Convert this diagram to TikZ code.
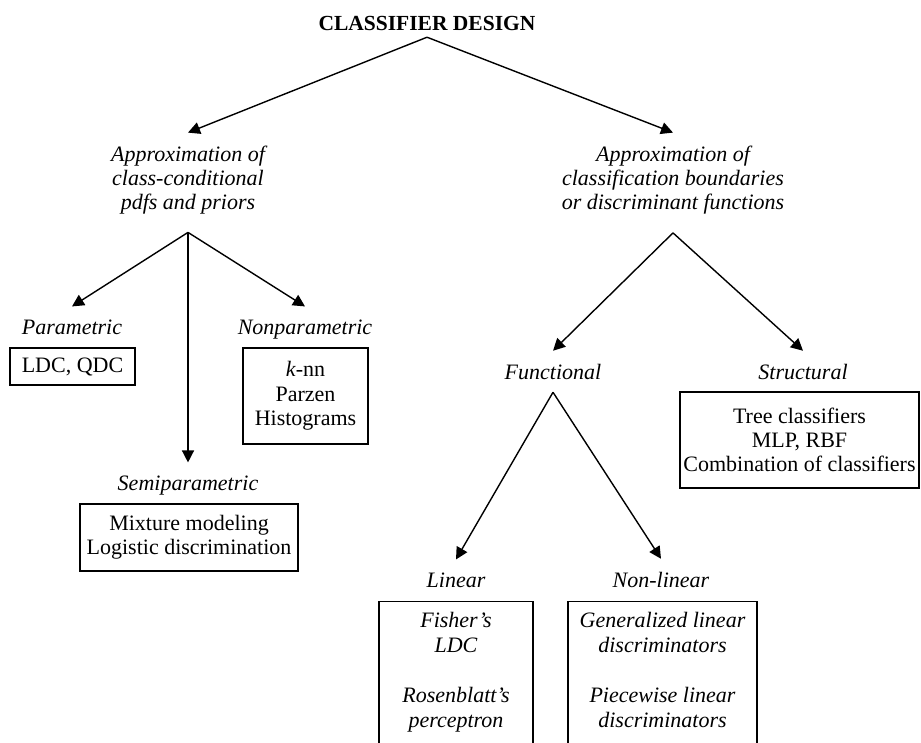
\documentclass[tikz,border=0pt]{standalone}
\usepackage{fontspec}
\setmainfont{Liberation Serif}
\usetikzlibrary{arrows.meta}
\begin{document}
\begin{tikzpicture}[x=1pt,y=-1pt,
  every node/.style={font=\fontsize{22}{24.3}\selectfont, align=center},
  headline/.style={font=\fontsize{21.5}{24}\selectfont\bfseries, inner sep=0pt, outer ysep=7pt},
  lbl/.style={font=\fontsize{22}{24.3}\selectfont\itshape, inner sep=0pt, outer ysep=13pt},
  itemtext/.style={font=\fontsize{22}{25}\selectfont\itshape, inner sep=0pt},
  box/.style={draw, line width=1.3pt, inner sep=0pt},
  arr/.style={line width=1.4pt, -{Triangle[length=12pt,width=12pt]}},
]
\useasboundingbox (0,0) rectangle (921,742);
\clip (0,0) rectangle (921,742);

% headings
\node[headline, anchor=base] (title) at (427,30) {CLASSIFIER DESIGN};
\node[lbl] (pdf)  at (188,180) {Approximation of\\class-conditional\\pdfs and priors};
\node[lbl] (disc) at (673,180) {Approximation of\\classification boundaries\\or discriminant functions};

% left branch
\node[lbl, anchor=base] (par)  at (72,334)  {Parametric};
\node[lbl, anchor=base] (npar) at (305,334) {Nonparametric};
\node[lbl, anchor=base] (semi) at (188,490) {Semiparametric};
\node[box, minimum width=125pt, minimum height=37pt] (parbox)  at (72.5,366.5) {LDC, QDC};
\node[box, minimum width=125pt, minimum height=96pt] (nparbox) at (305.5,396) {\textit{k}-nn\\Parzen\\Histograms};
\node[box, minimum width=218pt, minimum height=67pt] (semibox) at (189,537.5) {Mixture modeling\\Logistic discrimination};

% right branch
\node[lbl, anchor=base] (func)   at (553,379) {Functional};
\node[lbl, anchor=base] (struct) at (803,379) {Structural};
\node[box, minimum width=239pt, minimum height=96pt] (strbox) at (799.5,440) {Tree classifiers\\MLP, RBF\\Combination of classifiers};

\node[lbl, anchor=base] (lin)  at (456,587) {Linear};
\node[lbl, anchor=base] (nlin) at (661,587) {Non-linear};
\node[box, minimum width=154pt, minimum height=170pt, anchor=north] (linbox)  at (456,601) {};
\node[box, minimum width=189pt, minimum height=170pt, anchor=north] (nlinbox) at (662.5,601) {};
\node[itemtext, anchor=north] (lintext)  at (456,612)   {Fisher's\\LDC\\[25pt]Rosenblatt's\\perceptron};
\node[itemtext, anchor=north] (nlintext) at (662.5,612) {Generalized linear\\discriminators\\[25pt]Piecewise linear\\discriminators};

% connectors
\draw[arr] (title.south) -- (pdf.north);
\draw[arr] (title.south) -- (disc.north);
\draw[arr] ([yshift=-5pt]pdf.south) -- (par.north);
\draw[arr] ([yshift=-5pt]pdf.south) -- (semi.north);
\draw[arr] ([yshift=-5pt]pdf.south) -- (npar.north);
\draw[arr] ([yshift=-5.5pt]disc.south) -- (func.north);
\draw[arr] ([yshift=-5.5pt]disc.south) -- (struct.north);
\draw[arr] (func.south) -- (lin.north);
\draw[arr] (func.south) -- (nlin.north);
\end{tikzpicture}
\end{document}
